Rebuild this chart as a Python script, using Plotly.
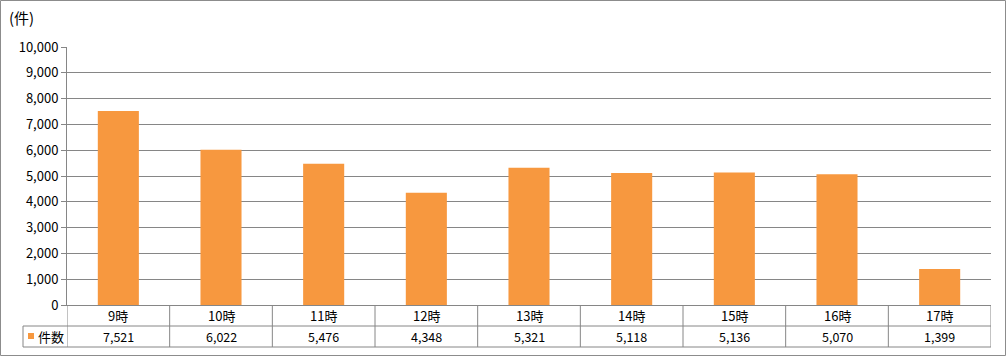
import plotly.graph_objects as go

categories = ["9時", "10時", "11時", "12時", "13時", "14時", "15時", "16時", "17時"]
counts = [7521, 6022, 5476, 4348, 5321, 5118, 5136, 5070, 1399]
series_name = "件数"
y_ticks = [0, 1000, 2000, 3000, 4000, 5000, 6000, 7000, 8000, 9000, 10000]

W, H = 1006, 356
L, R, T, B = 67, 15, 47, 51
pw, ph = W - L - R, H - T - B

def px_x(p):
    return (p - L) / pw

def px_y(p):
    return (H - B - p) / ph

bar_color = "#F7983F"
line_color = "#868686"
font = "Noto Sans CJK JP, sans-serif"
n = len(categories)

fig = go.Figure()
fig.add_trace(go.Bar(x=list(range(n)), y=counts, marker=dict(color=bar_color, line=dict(width=0)),
                     width=0.4, name=series_name, showlegend=False))

shapes = []
annotations = []
row1_bot = px_y(326)
row2_bot = px_y(347)

for yv in [row1_bot, row2_bot]:
    shapes.append(dict(type="line", xref="paper", yref="paper", x0=px_x(23), x1=1, y0=yv, y1=yv,
                       line=dict(color=line_color, width=1)))
shapes.append(dict(type="line", xref="paper", yref="paper", x0=px_x(23), x1=px_x(23), y0=row1_bot, y1=row2_bot,
                   line=dict(color=line_color, width=1)))
for i in range(n + 1):
    shapes.append(dict(type="line", xref="x", yref="paper", x0=i - 0.5, x1=i - 0.5, y0=0, y1=row2_bot,
                       line=dict(color=line_color, width=1)))
shapes.append(dict(type="rect", xref="paper", yref="paper", x0=px_x(28), x1=px_x(34),
                   y0=px_y(339), y1=px_y(333), fillcolor=bar_color, line=dict(width=0)))
shapes.append(dict(type="rect", xref="paper", yref="paper", x0=px_x(0.5), x1=px_x(1005.5),
                   y0=px_y(355.5), y1=px_y(0.5), line=dict(color="#8C8C8C", width=1)))

for i, (c, v) in enumerate(zip(categories, counts)):
    annotations.append(dict(x=i, y=(0 + row1_bot) / 2, xref="x", yref="paper", text=c, showarrow=False,
                            font=dict(size=13, color="#000", family=font), yanchor="middle"))
    annotations.append(dict(x=i, y=(row1_bot + row2_bot) / 2, xref="x", yref="paper", text=f"{v:,}",
                            showarrow=False, font=dict(size=12.5, color="#000", family=font), yanchor="middle"))
annotations.append(dict(x=px_x(36), y=(row1_bot + row2_bot) / 2, xref="paper", yref="paper", text=series_name,
                        showarrow=False, xanchor="left", yanchor="middle",
                        font=dict(size=13, color="#000", family=font)))
annotations.append(dict(x=px_x(7), y=px_y(17), xref="paper", yref="paper", text="(件)",
                        showarrow=False, xanchor="left", yanchor="middle",
                        font=dict(size=15, color="#000", family=font)))

fig.update_layout(
    width=W, height=H, margin=dict(l=L, r=R, t=T, b=B),
    paper_bgcolor="white", plot_bgcolor="white",
    shapes=shapes, annotations=annotations, bargap=0.6,
    xaxis=dict(range=[-0.5, n - 0.5], showticklabels=False, showgrid=False, zeroline=False,
               showline=True, linecolor=line_color, linewidth=1, ticks=""),
    yaxis=dict(range=[0, 10000], tickvals=y_ticks, ticktext=[f"{t:,}" for t in y_ticks],
               showgrid=True, gridcolor=line_color, gridwidth=1, zeroline=False,
               showline=True, linecolor=line_color, linewidth=1, ticks="outside", ticklen=5,
               tickcolor=line_color, tickfont=dict(size=13, color="#000", family=font)),
    font=dict(family=font),
)

fig.write_html("out.html")
